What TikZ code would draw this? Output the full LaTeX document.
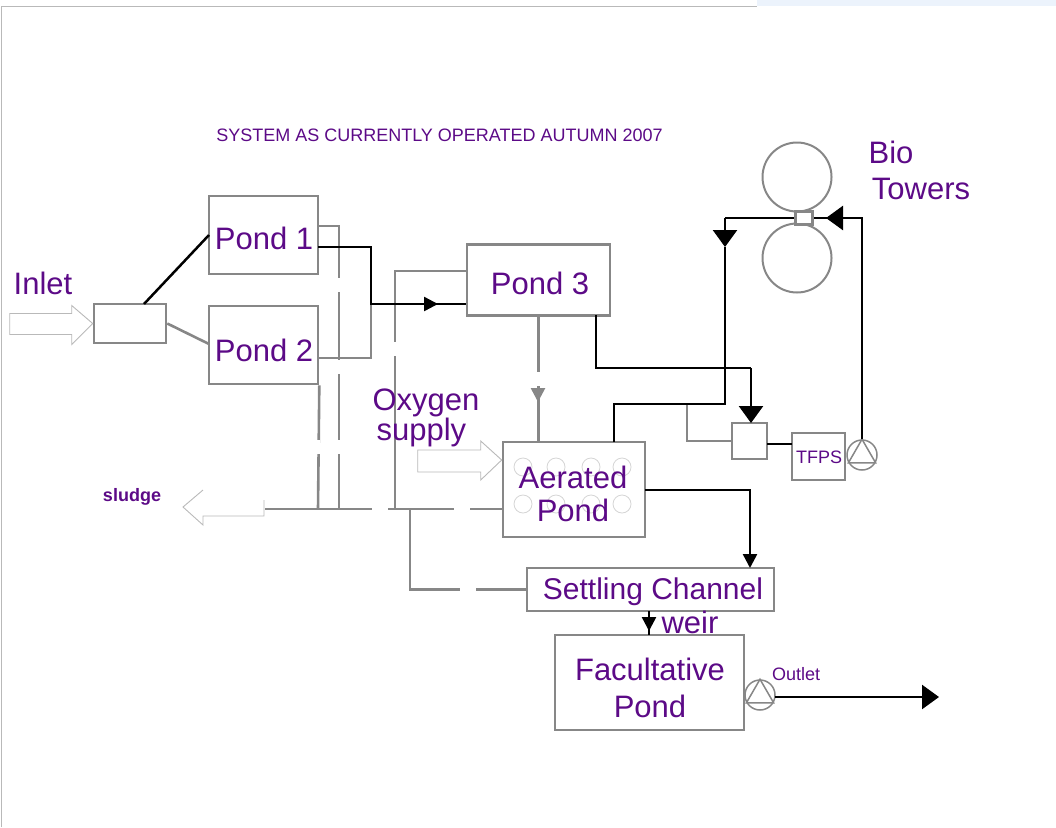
\documentclass[tikz,border=0pt]{standalone}
\usepackage{fontspec}
\setmainfont{Liberation Sans}
\usepackage{xcolor}
\usetikzlibrary{arrows.meta,positioning,calc}
\definecolor{deeppurple}{RGB}{92,10,135}
\definecolor{linegray}{RGB}{135,135,135}
\definecolor{softgray}{RGB}{185,185,185}
\definecolor{softblue}{RGB}{236,243,252}
\tikzset{
  boxnode/.style={draw=linegray, line width=2.6pt, inner sep=0pt, fill=white},
  graypipe/.style={draw=linegray, line width=2.6pt},
  blackpipe/.style={draw=black, line width=2.5pt},
  openarrow/.style={draw=softgray, line width=0.9pt, fill=white},
  pumpnode/.style={circle, draw=linegray, line width=1.5pt, minimum size=30pt, inner sep=0pt, fill=white},
  towernode/.style={circle, draw=linegray, line width=2pt, minimum size=69pt, inner sep=0pt},
  airnode/.style={circle, draw=softgray!60, line width=0.8pt, minimum size=18pt, inner sep=0pt},
  big/.style={text=deeppurple, inner sep=0pt, font=\fontsize{31}{24}\selectfont},
  small/.style={text=deeppurple, inner sep=0pt, font=\fontsize{18}{18}\selectfont},
  bigtip/.style={-{Triangle[width=24pt,length=17pt]}},
  midtip/.style={-{Triangle[width=14pt,length=14pt]}},
}
\begin{document}
\begin{tikzpicture}[x=1pt, y=-1pt]
\useasboundingbox (0,0) rectangle (1056,827);
% Page edge
\fill[softblue] (757,0) rectangle (1056,6);
\draw[softgray] (1,827) -- (1,6) -- (757,6);
% Boxes
\node[boxnode, minimum width=72, minimum height=39] (inletbox) at (130,323.5) {};
\node[boxnode, minimum width=109, minimum height=78] (pond1) at (263.5,235) {};
\node[boxnode, minimum width=109, minimum height=78] (pond2) at (263.5,345) {};
\node[boxnode, minimum width=143, minimum height=71] (pond3) at (538.5,280) {};
\node[boxnode, minimum width=142, minimum height=95] (aerated) at (574,489.5) {};
\node[boxnode, minimum width=35, minimum height=36] (splitbox) at (749.5,441) {};
\node[boxnode, minimum width=53, minimum height=47] (tfps) at (818.5,456.5) {};
\node[boxnode, minimum width=247, minimum height=43] (settling) at (650.5,589.5) {};
\node[boxnode, minimum width=189, minimum height=95] (facultative) at (649.5,682.5) {};
\node[towernode] (tower1) at (797,177) {};
\node[towernode] (tower2) at (797,258) {};
\node[boxnode, minimum width=17, minimum height=13] (towerbox) at (804,218) {};
\node[pumpnode] (pump1) at (862,455) {};
\node[pumpnode] (pump2) at (760,695) {};
\foreach \p in {pump1,pump2} {
  \draw[linegray, line width=1.5pt] (\p.90) -- (\p.210) -- (\p.330) -- cycle;
}
% Aerators
\foreach \x/\y/\n in {523/467/1,556/467/2,591/467/3,622/467/4,523/504/5,556/504/6,591/504/7,622/504/8} {
  \node[airnode] (air\n) at (\x,\y) {};
}
% Gray pipes
\coordinate (sludgeend) at (265,509);
\coordinate (sludgejoin) at (410,509);
\coordinate (pond1join) at (339,509);
\coordinate (pond2join) at (318,509);
\coordinate (pond3join) at (395,509);
\coordinate (ponds) at (371,304);
\coordinate (graytip) at (538,402);
\draw[graypipe] (inletbox.east) -- (209,344);
\draw[graypipe] (318,226) -| (pond1join);
\draw[graypipe] (318,358) -| (ponds);
\draw[graypipe] (pond2.south east) -- (pond2join);
\draw[graypipe] (sludgeend) -- (sludgeend -| aerated.west);
\draw[graypipe] (pond3.west |- 0,271) -| (pond3join);
\draw[graypipe] (sludgejoin) |- (settling.west);
\draw[graypipe] (pond3.south) -- (aerated.north -| pond3.south);
\draw[graypipe, -{Triangle[width=14pt,length=14pt]}] (538,388) -- (graytip);
\draw[graypipe] (687,404) |- (splitbox.west);
% Breaks in the gray pipes
\foreach \x/\y in {339/285,339/367,339/447,318/447,395/349,538/379} {
  \fill[white] (\x-2,\y-7) rectangle (\x+2,\y+7);
}
\foreach \x/\y in {380/509,462/509,468/589} {
  \fill[white] (\x-8,\y-2) rectangle (\x+8,\y+2);
}
% Black pipes
\coordinate (pond3tip) at (438,304);
\coordinate (towertip) at (826,218);
\coordinate (returntip) at (725,247);
\draw[blackpipe] (144,304) -- (209,235);
\draw[blackpipe] (318,247) -| (ponds) -- (pond3tip);
\draw[blackpipe, midtip] (ponds) -- (pond3tip);
\draw[blackpipe] (pond3tip) -- (pond3.west |- pond3tip);
\draw[blackpipe] (596,315) |- (751,368);
\draw[blackpipe, bigtip] (751,368) -- (751,423);
\draw[blackpipe] (614,442) |- (725,404) -- (returntip);
\draw[blackpipe, bigtip] (725,218) -- (returntip);
\draw[blackpipe] (725,218) -- (towerbox.west);
\draw[blackpipe] (767,444) -- (792,444);
\draw[blackpipe] (pump1.north) |- (towertip);
\draw[blackpipe, bigtip] (842,218) -- (towertip);
\draw[blackpipe] (towertip) -- (towerbox.east);
\draw[blackpipe, midtip] (645,490) -| (750,568);
\draw[blackpipe] (649,611) -- (649,635);
\draw[blackpipe, midtip] (649,611) -- (649,631);
\coordinate (outletend) at (939,697);
\draw[blackpipe, bigtip] (775,697) -- (outletend);
% Open arrows
\draw[openarrow] (inletbox.west) -- ++(-21,-18) -- ++(0,8) -- ++(-62,0) -- ++(0,21) -- ++(62,0) -- ++(0,10) -- cycle;
\draw[openarrow] (aerated.west |- 0,460) -- ++(-21,-19) -- ++(0,9) -- ++(-63,0) -- ++(0,22) -- ++(63,0) -- ++(0,8) -- cycle;
\draw[openarrow, fill=none] (264,500) -- (264,516) -- (203,516) -- (203,525) -- (183,507) -- (203,490);
% Labels
\node[small] (title) at (439.5,135) {SYSTEM AS CURRENTLY OPERATED AUTUMN 2007};
\node[big] (inlettxt) at (43,283) {Inlet};
\node[big] (pond1txt) at (264,238) {Pond 1};
\node[big] (pond2txt) at (264,350) {Pond 2};
\node[big] (pond3txt) at (540,283) {Pond 3};
\node[big, align=left] (oxygentxt) at (426,418) {Oxygen\\\hspace{4pt}supply};
\node[big] (aeratedtxt) at (573,477) {Aerated};
\node[big] (aeratedtxt2) at (573,510) {Pond};
\node[big, font=\fontsize{30}{30}\selectfont] (settlingtxt) at (653,592) {Settling Channel};
\node[big] (weirtxt) at (690,622) {weir};
\node[big] (factxt) at (650,669) {Facultative};
\node[big] (factxt2) at (650,706) {Pond};
\node[big] (biotxt) at (891,152) {Bio};
\node[big] (towerstxt) at (921,189) {Towers};
\node[small] (tfpstxt) at (819,457) {TFPS};
\node[small] (outlettxt) at (796,674) {Outlet};
\node[text=deeppurple, inner sep=0pt, font=\fontsize{18}{18}\selectfont\bfseries] (sludgetxt) at (132,497) {sludge};
\end{tikzpicture}
\end{document}
